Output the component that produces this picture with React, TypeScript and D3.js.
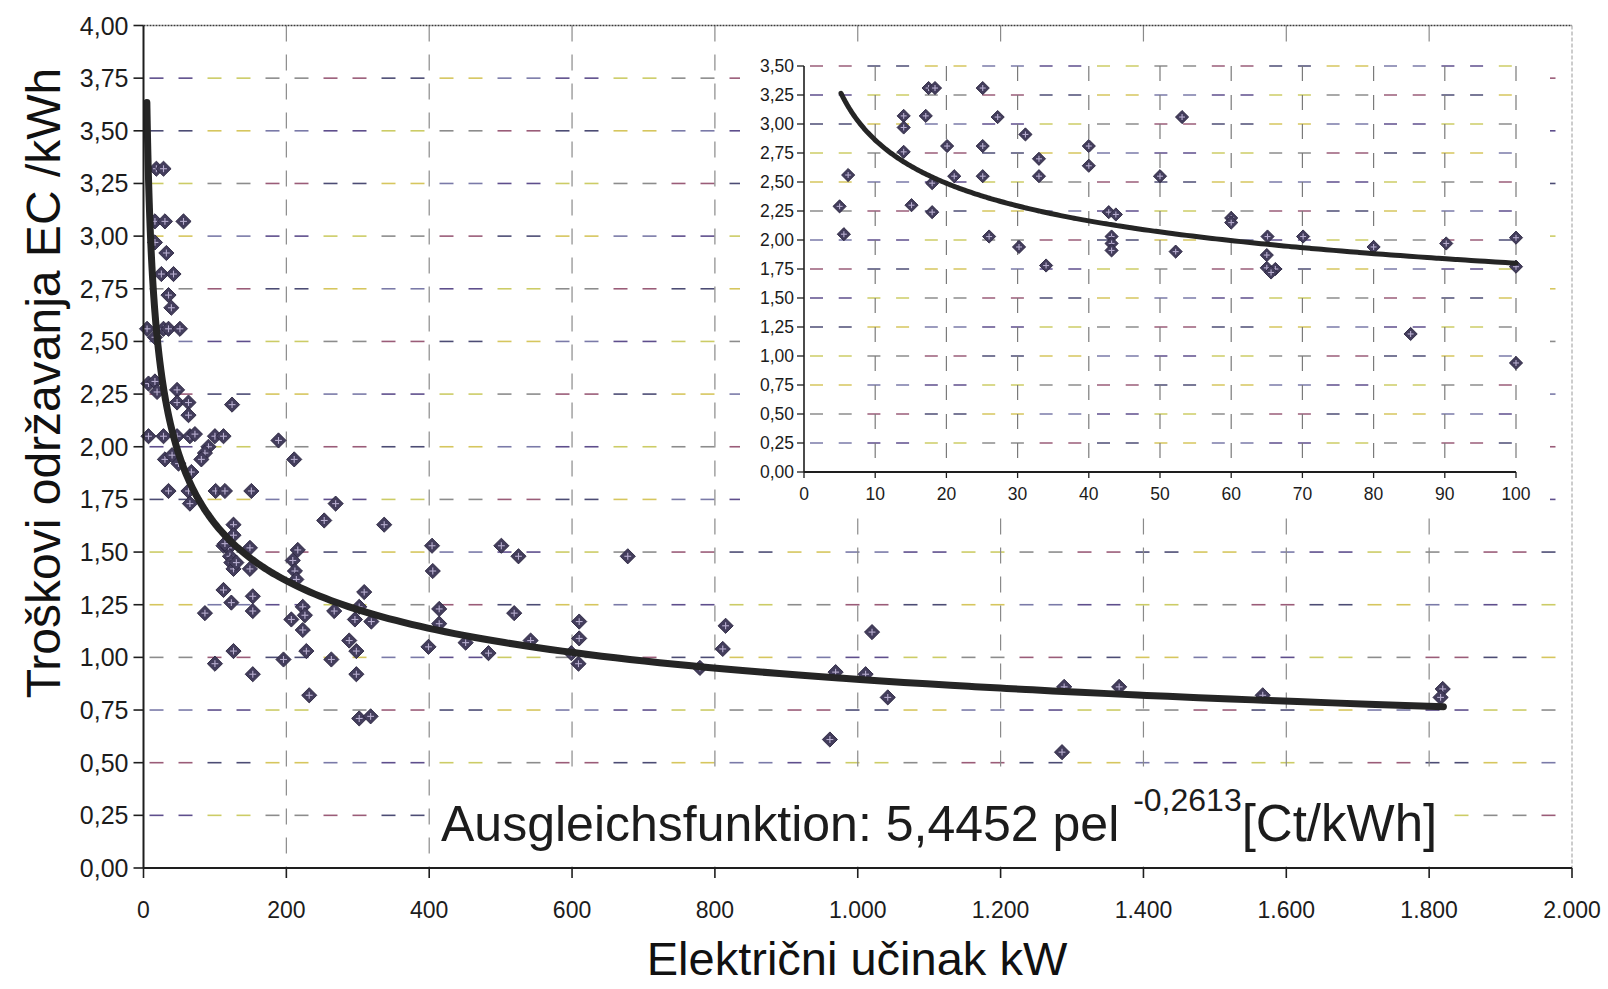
import React from "react";
import * as d3 from "d3";

const W = 1608;
const H = 989;

// main chart data: [electrical power kW, maintenance cost Ct/kWh]
const mainPoints: [number, number][] = [
  [5, 2.56], [18, 3.32], [28, 3.32], [16, 3.07], [30, 3.07], [56, 3.07], [16, 2.97], [32, 2.92],
  [25, 2.82], [42, 2.82], [35, 2.72], [39, 2.66], [28, 2.56], [35, 2.56], [51, 2.56], [16, 2.52],
  [7, 2.3], [16, 2.31], [19, 2.26], [47, 2.27], [47, 2.21], [63, 2.21], [63, 2.15], [124, 2.2],
  [7, 2.05], [28, 2.05], [47, 2.05], [65, 2.05], [72, 2.06], [100, 2.05], [112, 2.05], [91, 2.0],
  [86, 1.97], [81, 1.94], [30, 1.94], [40, 1.96], [49, 1.92], [67, 1.88], [35, 1.79], [63, 1.79],
  [65, 1.73], [101, 1.79], [114, 1.79], [151, 1.79], [189, 2.03], [211, 1.94], [253, 1.65],
  [269, 1.73], [337, 1.63], [126, 1.63], [126, 1.58], [112, 1.53], [119, 1.52], [121, 1.48],
  [123, 1.45], [126, 1.42], [130, 1.45], [114, 1.54], [149, 1.52], [149, 1.42], [112, 1.32],
  [123, 1.26], [153, 1.29], [153, 1.22], [86, 1.21], [216, 1.51], [209, 1.46], [212, 1.41],
  [214, 1.37], [223, 1.24], [226, 1.2], [207, 1.18], [223, 1.13], [228, 1.03], [196, 0.99],
  [263, 0.99], [232, 0.82], [267, 1.22], [302, 1.24], [309, 1.31], [319, 1.17], [296, 1.18],
  [288, 1.08], [298, 1.03], [298, 0.92], [302, 0.71], [318, 0.72], [126, 1.03], [100, 0.97],
  [153, 0.92], [404, 1.53], [405, 1.41], [414, 1.23], [414, 1.16], [399, 1.05], [451, 1.07],
  [483, 1.02], [501, 1.53], [525, 1.48], [519, 1.21], [542, 1.08], [610, 1.17], [610, 1.09],
  [609, 0.97], [599, 1.02], [678, 1.48], [779, 0.95], [815, 1.15], [811, 1.04], [969, 0.93],
  [961, 0.61], [1011, 0.92], [1020, 1.12], [1042, 0.81], [1289, 0.86], [1286, 0.55],
  [1366, 0.86], [1567, 0.82], [1819, 0.85], [1816, 0.81],
];

// inset data (0-100 kW)
const insetPoints: [number, number][] = [
  [5, 2.29], [5.6, 2.05], [6.2, 2.56], [14, 3.07], [14, 2.97], [14, 2.76], [15.1, 2.3],
  [17.1, 3.07], [17.5, 3.31], [18.4, 3.31], [18, 2.49], [18, 2.24], [20.1, 2.81], [21.1, 2.55],
  [25.1, 3.31], [25.1, 2.81], [25.1, 2.55], [26, 2.03], [27.2, 3.06], [30.2, 1.94], [31.1, 2.91],
  [33, 2.7], [33, 2.55], [34, 1.78], [40, 2.81], [40, 2.64], [42.8, 2.24], [43.8, 2.22],
  [43.2, 2.03], [43.2, 1.97], [43.2, 1.91], [50, 2.55], [52.2, 1.9], [53.1, 3.06], [60, 2.19],
  [60, 2.15], [65.1, 2.03], [65, 1.87], [65, 1.76], [66.2, 1.75], [65.6, 1.72], [70.1, 2.03],
  [80, 1.94], [85.2, 1.19], [90.2, 1.97], [100, 2.02], [100, 1.77], [100, 0.94],
];

const mainXTicks = d3.range(0, 2001, 200);
const mainYTicks = d3.range(0, 17).map((i) => i * 0.25);
const insetXTicks = d3.range(0, 101, 10);
const insetYTicks = d3.range(0, 15).map((i) => i * 0.25);

// power-law trend lines (y = a * x^b)
const mainFit = { a: 5.4452, b: -0.2613, x0: 4.7, x1: 1820 };
const insetFit = { a: 4.549, b: -0.2013, x0: 5.2, x1: 100 };

const yTitle = "Troškovi održavanja EC /kWh";
const xTitle = "Električni učinak kW";
const eqMain = "Ausgleichsfunktion: 5,4452 pel ";
const eqExp = "-0,2613";
const eqUnit = "[Ct/kWh]";

const FONT = "'Liberation Sans', Arial, Helvetica, sans-serif";
const dashPalette = ["#5e4e8c", "#cccc66", "#8c8c8c", "#9a5c78", "#4c4c74", "#d6c65e", "#7a7aa8"];

const locale = d3.formatLocale({ decimal: ",", thousands: ".", grouping: [3], currency: ["", ""] });
const fmtX = locale.format(",d");
const fmtY = locale.format(".2f");

const M = { left: 143.5, right: 1572, top: 25.5, bottom: 868 };
const I = { left: 804, right: 1516, top: 66, bottom: 472 };

const xMain = d3.scaleLinear().domain([0, 2000]).range([M.left, M.right]);
const yMain = d3.scaleLinear().domain([0, 4]).range([M.bottom, M.top]);
const xIn = d3.scaleLinear().domain([0, 100]).range([I.left, I.right]);
const yIn = d3.scaleLinear().domain([0, 3.5]).range([I.bottom, I.top]);

function hDashes(y: number, xa: number, xb: number, period: number, len: number, seed: number) {
  const out: { x1: number; x2: number; c: string }[] = [];
  let k = 0;
  for (let x = xa + 6; x < xb - 2; x += period) {
    out.push({ x1: x, x2: Math.min(x + len, xb), c: dashPalette[(seed * 3 + Math.floor(k / 2)) % dashPalette.length] });
    k++;
  }
  return out;
}

function fitPath(fit: { a: number; b: number; x0: number; x1: number }, xs: d3.ScaleLinear<number, number>, ys: d3.ScaleLinear<number, number>) {
  const n = 200;
  const pts: [number, number][] = d3.range(n + 1).map((i) => {
    const x = fit.x0 * Math.pow(fit.x1 / fit.x0, i / n);
    return [x, fit.a * Math.pow(x, fit.b)];
  });
  return d3.line<[number, number]>().x((d) => xs(d[0])).y((d) => ys(d[1])).curve(d3.curveMonotoneX)(pts) || "";
}

function Marker({ x, y, r }: { x: number; y: number; r: number }) {
  const q = r * 0.45;
  return (
    <g transform={`translate(${x},${y})`}>
      <path d={`M0,${-r}L${r},0L0,${r}L${-r},0Z`} fill="#433d5c" stroke="#2a2540" strokeWidth={0.9} />
      <line x1={-q} x2={q} y1={0} y2={0} stroke="#b8aed0" strokeWidth={1.1} />
      <line x1={0} x2={0} y1={-q} y2={q} stroke="#b8aed0" strokeWidth={1.1} />
    </g>
  );
}

export default function App() {
  const mainCurve = fitPath(mainFit, xMain, yMain);
  const insetCurve = fitPath(insetFit, xIn, yIn);

  return (
    <svg width={W} height={H} style={{ position: "absolute", left: 0, top: 0, background: "#fff" }} fontFamily={FONT}>
      <rect x={0} y={0} width={W} height={H} fill="#ffffff" />

      {/* main horizontal gridlines */}
      {mainYTicks.filter((t) => t > 0 && t < 4).map((t, i) =>
        hDashes(yMain(t), M.left, M.right, 29, 14, i).map((d, j) => (
          <line key={`mh${i}-${j}`} x1={d.x1} x2={d.x2} y1={yMain(t)} y2={yMain(t)} stroke={d.c} strokeWidth={1.6} />
        ))
      )}
      {/* main vertical gridlines */}
      {mainXTicks.filter((t) => t > 0 && t < 2000).map((t) => (
        <line key={`mv${t}`} x1={xMain(t)} x2={xMain(t)} y1={M.top} y2={M.bottom} stroke="#8a8a8a" strokeWidth={1.2} strokeDasharray="16 13" />
      ))}
      {/* frame */}
      <line x1={M.left} x2={M.right} y1={M.top} y2={M.top} stroke="#3a3a3a" strokeWidth={1.6} strokeDasharray="2 1" />
      <line x1={M.right} x2={M.right} y1={M.top} y2={M.bottom} stroke="#9a9a9a" strokeWidth={1} strokeDasharray="4 2" />

      {/* main points */}
      {mainPoints.map((p, i) => (
        <Marker key={`mp${i}`} x={xMain(p[0])} y={yMain(p[1])} r={7.6} />
      ))}
      {/* main trend */}
      <path d={mainCurve} fill="none" stroke="#252525" strokeWidth={7} strokeLinecap="round" />

      {/* main axes */}
      <line x1={M.left} x2={M.left} y1={M.top} y2={M.bottom} stroke="#1e1e1e" strokeWidth={2} />
      <line x1={M.left} x2={M.right} y1={M.bottom} y2={M.bottom} stroke="#1e1e1e" strokeWidth={2.2} />
      {mainYTicks.map((t) => (
        <line key={`myt${t}`} x1={M.left - 10} x2={M.left} y1={yMain(t)} y2={yMain(t)} stroke="#1e1e1e" strokeWidth={1.6} />
      ))}
      {mainXTicks.map((t) => (
        <line key={`mxt${t}`} x1={xMain(t)} x2={xMain(t)} y1={M.bottom} y2={M.bottom + 10} stroke="#1e1e1e" strokeWidth={1.6} />
      ))}
      {mainYTicks.map((t) => (
        <text key={`myl${t}`} x={M.left - 15} y={yMain(t)} dy="0.36em" textAnchor="end" fontSize={25} fill="#1c1c1c">
          {fmtY(t)}
        </text>
      ))}
      {mainXTicks.map((t) => (
        <text key={`mxl${t}`} x={xMain(t)} y={M.bottom + 50} textAnchor="middle" fontSize={23} fill="#1c1c1c">
          {fmtX(t)}
        </text>
      ))}

      {/* inset */}
      <rect x={740} y={42} width={810} height={473} fill="#ffffff" />
      {insetYTicks.filter((t) => t > 0).map((t, i) =>
        hDashes(yIn(t), I.left, I.right, 28.7, 13, i + 2).map((d, j) => (
          <line key={`ih${i}-${j}`} x1={d.x1} x2={d.x2} y1={yIn(t)} y2={yIn(t)} stroke={d.c} strokeWidth={1.5} />
        ))
      )}
      {insetXTicks.filter((t) => t > 0).map((t) => (
        <line key={`iv${t}`} x1={xIn(t)} x2={xIn(t)} y1={I.top} y2={I.bottom} stroke="#7a7a7a" strokeWidth={1.2} strokeDasharray="15 14" />
      ))}
      {insetPoints.map((p, i) => (
        <Marker key={`ip${i}`} x={xIn(p[0])} y={yIn(p[1])} r={6.6} />
      ))}
      <path d={insetCurve} fill="none" stroke="#252525" strokeWidth={5} strokeLinecap="round" />
      <line x1={I.left} x2={I.left} y1={I.top} y2={I.bottom} stroke="#1e1e1e" strokeWidth={1.6} />
      <line x1={I.left} x2={I.right} y1={I.bottom} y2={I.bottom} stroke="#1e1e1e" strokeWidth={1.8} />
      {insetYTicks.map((t) => (
        <line key={`iyt${t}`} x1={I.left - 7} x2={I.left} y1={yIn(t)} y2={yIn(t)} stroke="#1e1e1e" strokeWidth={1.3} />
      ))}
      {insetXTicks.map((t) => (
        <line key={`ixt${t}`} x1={xIn(t)} x2={xIn(t)} y1={I.bottom} y2={I.bottom + 6} stroke="#1e1e1e" strokeWidth={1.3} />
      ))}
      {insetYTicks.map((t) => (
        <text key={`iyl${t}`} x={I.left - 10} y={yIn(t)} dy="0.36em" textAnchor="end" fontSize={17.5} fill="#1c1c1c">
          {fmtY(t)}
        </text>
      ))}
      {insetXTicks.map((t) => (
        <text key={`ixl${t}`} x={xIn(t)} y={I.bottom + 28} textAnchor="middle" fontSize={17.5} fill="#1c1c1c">
          {fmtX(t)}
        </text>
      ))}

      {/* equation */}
      <rect x={433} y={774} width={1018} height={91} fill="#ffffff" />
      <text x={441} y={841} fontSize={50} fill="#1c1c1c">
        {eqMain}
        <tspan fontSize={32} dy={-30}>{eqExp}</tspan>
        <tspan fontSize={51} dy={30}>{eqUnit}</tspan>
      </text>

      {/* titles */}
      <text transform={`translate(60,383) rotate(-90)`} textAnchor="middle" fontSize={48} fill="#111">
        {yTitle}
      </text>
      <text x={857} y={975} textAnchor="middle" fontSize={47} fill="#111">
        {xTitle}
      </text>
    </svg>
  );
}
